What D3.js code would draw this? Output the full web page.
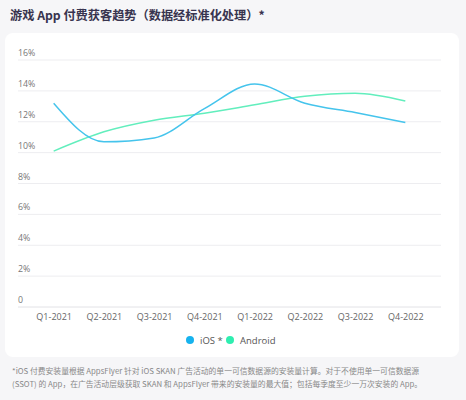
<!DOCTYPE html>
<html>
<head>
<meta charset="utf-8">
<script src="https://cdn.jsdelivr.net/npm/d3@7"></script>
<style>
    body { margin: 0; background: #f6f6f8; }
    svg { display: block; }
</style>
</head>
<body>
<svg id="chart"></svg>
<script>
// quarters on the x axis
var quarters = ["Q1-2021", "Q2-2021", "Q3-2021", "Q4-2021", "Q1-2022", "Q2-2022", "Q3-2022", "Q4-2022"];

// normalised paid install share, in percent
var iosValues = [13.2, 10.7, 10.95, 12.85, 14.45, 13.2, 12.6, 11.95];
var androidValues = [10.1, 11.35, 12.1, 12.55, 13.1, 13.65, 13.85, 13.35];

var yTicks = [0, 2, 4, 6, 8, 10, 12, 14, 16];

var seriesNames = ["iOS *", "Android"];

var titleText = "游戏 App 付费获客趋势（数据经标准化处理）*";
var noteLines = [
    "*iOS 付费安装量根据 AppsFlyer 针对 iOS SKAN 广告活动的单一可信数据源的安装量计算。对于不使用单一可信数据源",
    "(SSOT) 的 App，在广告活动层级获取 SKAN 和 AppsFlyer 带来的安装量的最大值；包括每季度至少一万次安装的 App。"
];

var width = 466;
var height = 400;

var lineColors = ["#45c4ec", "#62eebd"];
var dotColors = ["#17b3ee", "#2eeeb0"];

var cjk = "'Noto Sans CJK SC', 'Open Sans', sans-serif";

var svg = d3.select("#chart")
    .attr("width", width)
    .attr("height", height);

// white card behind the chart
svg.append("rect")
    .attr("x", 5)
    .attr("y", 33)
    .attr("width", 454)
    .attr("height", 324)
    .attr("rx", 8)
    .attr("fill", "#ffffff");

svg.append("text")
    .attr("x", 10)
    .attr("y", 20)
    .attr("font-family", cjk)
    .attr("font-size", 12.2)
    .attr("font-weight", 700)
    .attr("fill", "#38344f")
    .text(titleText);

var plot = { left: 18, right: 441, top: 60, bottom: 307 };

var x = d3.scalePoint()
    .domain(quarters)
    .range([plot.left, plot.right])
    .padding(0.71);

var y = d3.scaleLinear()
    .domain([0, 16])
    .range([plot.bottom, plot.top]);

// horizontal grid + labels sitting above each line
var grid = svg.append("g").attr("class", "grid");

grid.selectAll("line")
    .data(yTicks)
    .enter().append("line")
    .attr("x1", plot.left)
    .attr("x2", plot.right)
    .attr("y1", function (d) { return y(d); })
    .attr("y2", function (d) { return y(d); })
    .attr("stroke", function (d) { return d === 0 ? "#e2e2e6" : "#ededf0"; })
    .attr("stroke-width", 1);

grid.selectAll("text")
    .data(yTicks)
    .enter().append("text")
    .attr("x", plot.left)
    .attr("y", function (d) { return y(d) - 4; })
    .attr("font-family", "'Open Sans', sans-serif")
    .attr("font-size", 8.8)
    .attr("fill", "#777")
    .text(function (d) { return d === 0 ? "0" : d + "%"; });

// x axis labels
var axisX = svg.append("g")
    .attr("transform", "translate(0," + (plot.bottom + 13) + ")")
    .call(d3.axisBottom(x).tickSize(0).tickPadding(0));

axisX.select(".domain").remove();

axisX.selectAll("text")
    .attr("font-family", "'Open Sans', sans-serif")
    .attr("font-size", 9)
    .attr("fill", "#666")
    .attr("dy", "0");

// the two lines
var line = d3.line()
    .x(function (d, i) { return x(quarters[i]); })
    .y(function (d) { return y(d); })
    .curve(d3.curveMonotoneX);

[androidValues, iosValues].forEach(function (values, k) {
    var idx = k === 0 ? 1 : 0;
    svg.append("path")
        .datum(values)
        .attr("fill", "none")
        .attr("stroke", lineColors[idx])
        .attr("stroke-width", 1.5)
        .attr("d", line);
});

// legend
var legend = svg.append("g")
    .attr("transform", "translate(190,340)");

var legendX = [0, 40];

legend.selectAll("circle")
    .data(seriesNames)
    .enter().append("circle")
    .attr("cx", function (d, i) { return legendX[i]; })
    .attr("cy", 0)
    .attr("r", 4)
    .attr("fill", function (d, i) { return dotColors[i]; });

legend.selectAll("text")
    .data(seriesNames)
    .enter().append("text")
    .attr("x", function (d, i) { return legendX[i] + 10; })
    .attr("y", 3.5)
    .attr("font-family", "'Open Sans', sans-serif")
    .attr("font-size", 9.5)
    .attr("fill", "#555")
    .text(function (d) { return d; });

// footnote under the card
svg.append("g")
    .selectAll("text")
    .data(noteLines)
    .enter().append("text")
    .attr("x", 12)
    .attr("y", function (d, i) { return 374 + i * 12.5; })
    .attr("font-family", cjk)
    .attr("font-size", 7.8)
    .attr("fill", "#888")
    .text(function (d) { return d; });
</script>
</body>
</html>
